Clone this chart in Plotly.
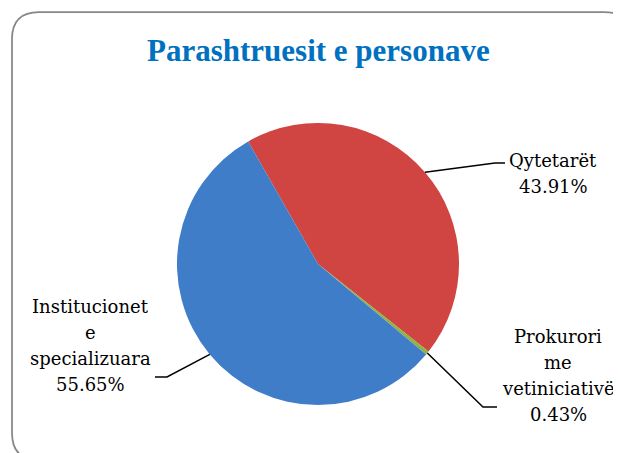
import math
import plotly.graph_objects as go

# ---- data ----
labels = ["Qytetarët", "Prokurori<br>me<br>vetiniciativë", "Institucionet<br>e<br>specializuara"]
values = [43.91, 0.43, 55.65]
colors = ["#D04442", "#8DB444", "#3F7DC9"]
title_text = "Parashtruesit e personave"

# page is offset by the 8px body margin; work in page pixel coordinates
OFF = 8
PW, PH = 621, 453
W, H = PW - OFF, PH - OFF
CX, CY, R = 318, 264, 141
ROT = -29.7

# label layout (page pixel positions: block centre x, first baseline y) and leader elbows
label_pos = [(553, 166), (558, 342), (90, 312)]
LINE_GAP = 26.3
elbows = [((495, 163), (505, 163)), ((483, 407), (497, 407)), ((167, 377), (155, 377))]

fig = go.Figure()
fig.add_trace(go.Pie(
    values=values, labels=labels, sort=False, direction="clockwise",
    rotation=ROT, textinfo="none", hoverinfo="label+percent",
    marker=dict(colors=colors, line=dict(width=0)),
    domain=dict(x=[(CX - R - OFF) / W, (CX + R - OFF) / W],
                y=[(PH - CY - R) / H, (PH - CY + R) / H]),
    showlegend=False,
))

# hidden pixel axes for shapes / annotations
fig.add_trace(go.Scatter(x=[OFF, PW], y=[OFF, PH], mode="markers", marker=dict(opacity=0),
                         hoverinfo="skip", showlegend=False))
fig.update_xaxes(range=[OFF, PW], visible=False, fixedrange=True)
fig.update_yaxes(range=[PH, OFF], visible=False, fixedrange=True)

shapes = []
# rounded chart border
x0, y0, x1, y1, r = 12, 12, 631, 460, 27
path = (f"M {x0+r},{y0} L {x1-r},{y0} Q {x1},{y0} {x1},{y0+r} L {x1},{y1-r} "
        f"Q {x1},{y1} {x1-r},{y1} L {x0+r},{y1} Q {x0},{y1} {x0},{y1-r} "
        f"L {x0},{y0+r} Q {x0},{y0} {x0+r},{y0} Z")
shapes.append(dict(type="path", path=path, xref="x", yref="y",
                   line=dict(color="#878787", width=1.75), layer="below"))

total = sum(values)
acc = 0.0
annotations = []
for i, v in enumerate(values):
    mid = ROT + (acc + v / 2) / total * 360.0
    acc += v
    ex = CX + R * math.sin(math.radians(mid))
    ey = CY - R * math.cos(math.radians(mid))
    (bx, by), (tx, ty) = elbows[i]
    shapes.append(dict(type="path", path=f"M {ex},{ey} L {bx},{by} L {tx},{ty}",
                       xref="x", yref="y", line=dict(color="black", width=1.5)))
    lx, ly = label_pos[i]
    lines = labels[i].split("<br>") + [f"{v:.2f}%"]
    for k, line in enumerate(lines):
        annotations.append(dict(x=lx, y=ly + k * LINE_GAP - 6, xref="x", yref="y",
                                showarrow=False, text=line, align="center",
                                xanchor="center", yanchor="middle",
                                font=dict(family="DejaVu Serif", size=18, color="black")))

annotations.append(dict(x=318.5, y=50, xref="x", yref="y", showarrow=False,
                        text=f"<b>{title_text}</b>", xanchor="center", yanchor="middle",
                        font=dict(family="Liberation Serif", size=31, color="#0070C0")))

fig.update_layout(width=W, height=H, margin=dict(l=0, r=0, t=0, b=0),
                  paper_bgcolor="white", plot_bgcolor="rgba(0,0,0,0)",
                  shapes=shapes, annotations=annotations)
fig.write_html("out.html")
